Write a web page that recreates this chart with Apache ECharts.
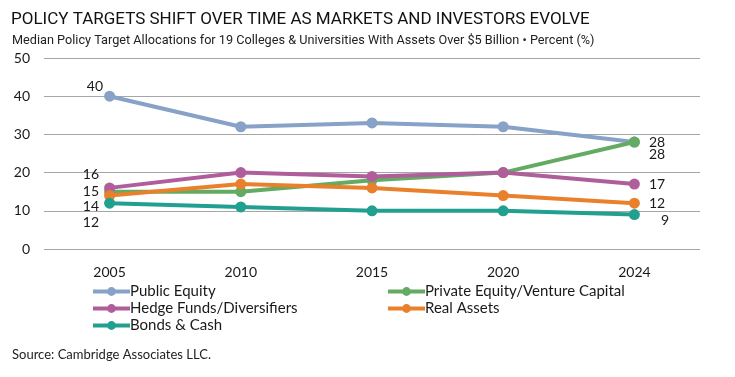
<!DOCTYPE html>
<html>
<head>
<meta charset="utf-8">
<script src="https://cdn.jsdelivr.net/npm/echarts@6/dist/echarts.min.js"></script>
<style>
  html, body { margin: 0; padding: 0; background: #fff; }
  #main { width: 735px; height: 377px; }
</style>
</head>
<body>
<div id="main"></div>
<script>
// data
var years = ['2005', '2010', '2015', '2020', '2024']
var publicEquity = [40, 32, 33, 32, 28]
var privateEquity = [15, 15, 18, 20, 28]
var hedgeFunds = [16, 20, 19, 20, 17]
var realAssets = [14, 17, 16, 14, 12]
var bondsCash = [12, 11, 10, 10, 9]
var yTicks = [0, 10, 20, 30, 40, 50]

var font = 'Lato, "Open Sans", sans-serif'
var narrow = '"Liberation Sans Narrow", Roboto, sans-serif'
var textColor = '#1a1a1a'

// label offsets for first / last point of each line
function withLabels(values, first, last) {
  return values.map(function (v, i) {
    if (i === 0 && first) {
      return { value: v, label: { show: true, position: 'left', offset: first } }
    }
    if (i === values.length - 1 && last) {
      return { value: v, label: { show: true, position: 'right', offset: last } }
    }
    return v
  })
}

function line(name, color, data) {
  return {
    name: name,
    type: 'line',
    data: data,
    symbol: 'circle',
    symbolSize: 11,
    lineStyle: { width: 4, color: color },
    itemStyle: { color: color },
    label: { show: false, color: textColor, fontSize: 14, fontFamily: font },
    emphasis: { disabled: true }
  }
}

var legendBase = {
  orient: 'vertical', top: 279, itemGap: 2,
  itemWidth: 37, itemHeight: 11,
  lineStyle: { width: 4 },
  textStyle: { fontSize: 15, color: textColor, fontFamily: font, padding: [0, 0, 0, -5] }
}

var myChart = echarts.init(document.getElementById('main'))

var option = {
  animation: false,
  title: [
    {
      text: 'POLICY TARGETS SHIFT OVER TIME AS MARKETS AND INVESTORS EVOLVE',
      left: 6, top: 6,
      textStyle: { fontSize: 17, fontWeight: 'normal', color: '#111', fontFamily: narrow }
    },
    {
      text: 'Median Policy Target Allocations for 19 Colleges & Universities With Assets Over $5 Billion • Percent (%)',
      left: 7, top: 29,
      textStyle: { fontSize: 12.7, fontWeight: 'normal', color: '#222', fontFamily: narrow }
    },
    {
      text: 'Source: Cambridge Associates LLC.',
      left: 7, top: 343,
      textStyle: { fontSize: 13, fontWeight: 'normal', color: '#222', fontFamily: font }
    }
  ],
  grid: { left: 44, right: 35, top: 58, bottom: 128 },
  legend: [
    Object.assign({}, legendBase, {
      left: 86,
      data: ['Public Equity', 'Hedge Funds/Diversifiers', 'Bonds & Cash']
    }),
    Object.assign({}, legendBase, {
      left: 381,
      data: ['Private Equity/Venture Capital', 'Real Assets']
    })
  ],
  xAxis: {
    type: 'category',
    data: years,
    boundaryGap: true,
    axisLine: { show: false },
    axisTick: { show: false },
    axisLabel: { margin: 16, fontSize: 14, color: textColor, fontFamily: font }
  },
  yAxis: {
    type: 'value',
    min: yTicks[0],
    max: yTicks[yTicks.length - 1],
    interval: 10,
    axisLine: { show: false },
    axisTick: { show: false },
    axisLabel: { margin: 14, fontSize: 14, color: textColor, fontFamily: font },
    splitLine: { lineStyle: { color: '#a6a6a6', width: 1 } }
  },
  series: [
    line('Public Equity', '#87a2c6', withLabels(publicEquity, [4, -10], [4, 0])),
    line('Private Equity/Venture Capital', '#63ab62', withLabels(privateEquity, [0, 0], [4, 12])),
    line('Hedge Funds/Diversifiers', '#b05e9b', withLabels(hedgeFunds, [0, -13], [4, 0])),
    line('Real Assets', '#e9812c', withLabels(realAssets, [0, 11], [4, 0])),
    line('Bonds & Cash', '#22a08f', withLabels(bondsCash, [0, 19], [16, 6]))
  ]
}

myChart.setOption(option)
</script>
</body>
</html>
